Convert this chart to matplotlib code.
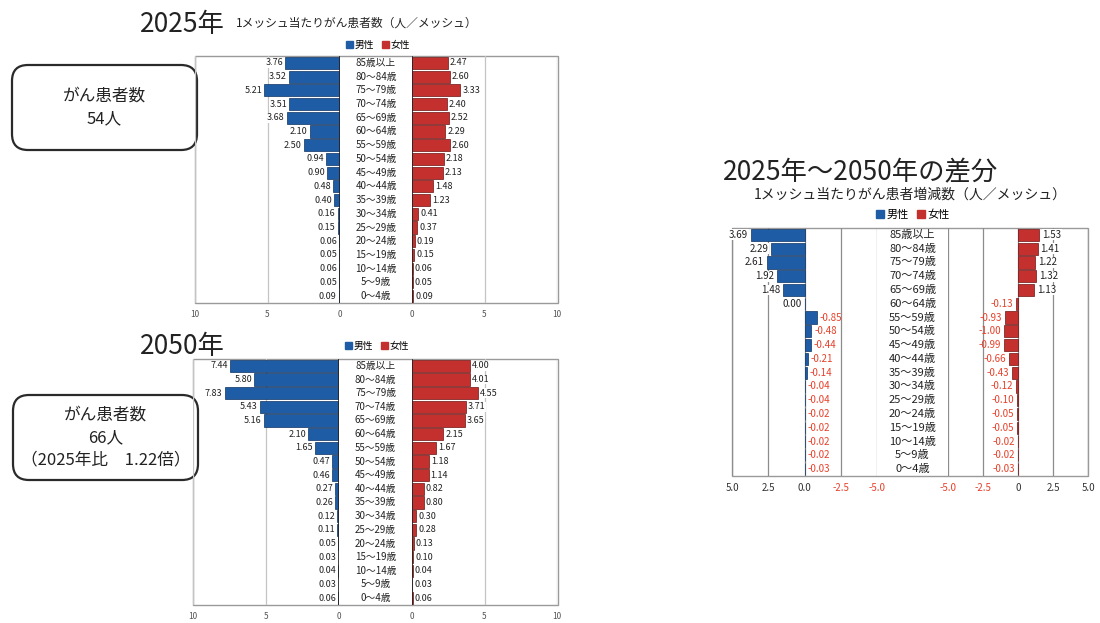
import matplotlib.pyplot as plt
from matplotlib.patches import FancyBboxPatch, Rectangle, Patch
from matplotlib.transforms import blended_transform_factory

W, H = 1100, 623
plt.rcParams['font.family'] = ['Noto Sans CJK JP', 'DejaVu Sans']

BLUE = "#1f5ca6"
RED = "#c4302e"
NEG = "#e8402a"

ages = ["85歳以上", "80～84歳", "75～79歳", "70～74歳", "65～69歳", "60～64歳",
        "55～59歳", "50～54歳", "45～49歳", "40～44歳", "35～39歳", "30～34歳",
        "25～29歳", "20～24歳", "15～19歳", "10～14歳", "5～9歳", "0～4歳"]

male_2025 = [3.76, 3.52, 5.21, 3.51, 3.68, 2.10, 2.50, 0.94, 0.90, 0.48, 0.40,
             0.16, 0.15, 0.06, 0.05, 0.06, 0.05, 0.09]
female_2025 = [2.47, 2.60, 3.33, 2.40, 2.52, 2.29, 2.60, 2.18, 2.13, 1.48, 1.23,
               0.41, 0.37, 0.19, 0.15, 0.06, 0.05, 0.09]

male_2050 = [7.44, 5.80, 7.83, 5.43, 5.16, 2.10, 1.65, 0.47, 0.46, 0.27, 0.26,
             0.12, 0.11, 0.05, 0.03, 0.04, 0.03, 0.06]
female_2050 = [4.00, 4.01, 4.55, 3.71, 3.65, 2.15, 1.67, 1.18, 1.14, 0.82, 0.80,
               0.30, 0.28, 0.13, 0.10, 0.04, 0.03, 0.06]

male_diff = [3.69, 2.29, 2.61, 1.92, 1.48, 0.00, -0.85, -0.48, -0.44, -0.21, -0.14,
             -0.04, -0.04, -0.02, -0.02, -0.02, -0.02, -0.03]
female_diff = [1.53, 1.41, 1.22, 1.32, 1.13, -0.13, -0.93, -1.00, -0.99, -0.66, -0.43,
               -0.12, -0.10, -0.05, -0.05, -0.02, -0.02, -0.03]

top_ticks = [0, 5, 10]
diff_ticks = [-5, -2.5, 0, 2.5, 5]


def box(x0, y0, x1, y1):
    # pixel box -> figure fraction
    return [x0 / W, 1 - y1 / H, (x1 - x0) / W, (y1 - y0) / H]


fig = plt.figure(figsize=(W / 100, H / 100), dpi=100)
fig.patch.set_facecolor("white")

# overlay in pixel coordinates for titles / boxes
ov = fig.add_axes([0, 0, 1, 1])
ov.set_xlim(0, W)
ov.set_ylim(H, 0)
ov.axis("off")


def panel(x0, x1, y0, y1, grid_col):
    ax = fig.add_axes(box(x0, y0, x1, y1))
    ax.set_facecolor("none")
    for s in ax.spines.values():
        s.set_visible(False)
    ax.set_ylim(17.5, -0.5)
    ax.set_yticks([])
    ax.tick_params(axis="x", length=0, pad=5)
    ax.grid(axis="x", color=grid_col, lw=0.9)
    ax.set_axisbelow(True)
    return ax


def pyramid(frame, lpan, rpan, male, female, diff=False):
    x0, y0, x1, y1 = frame
    ov.add_patch(Rectangle((x0, y0), x1 - x0, y1 - y0, fill=False,
                           ec="#9a9a9a", lw=1.0))
    grid_col = "#8c8c8c" if diff else "#c4c4c4"
    axl = panel(lpan[0], lpan[1], y0, y1, grid_col)
    axr = panel(rpan[0], rpan[1], y0, y1, grid_col)
    rows = range(len(ages))
    axl.barh(rows, male, height=0.88, color=BLUE, edgecolor="#0e3461", lw=0.5)
    axr.barh(rows, female, height=0.88, color=RED, edgecolor="#6e1413", lw=0.5)
    fs = 7 if diff else 6.5
    if diff:
        axl.set_xlim(5, -5)
        axr.set_xlim(-5, 5)
        axl.set_xticks(diff_ticks)
        axl.set_xticklabels(["-5.0", "-2.5", "0.0", "2.5", "5.0"], fontsize=7)
        axr.set_xticks(diff_ticks)
        axr.set_xticklabels(["-5.0", "-2.5", "0", "2.5", "5.0"], fontsize=7)
        for t, c in zip(axl.get_xticklabels(), [NEG, NEG, "#333", "#333", "#333"]):
            t.set_color(c)
        for t, c in zip(axr.get_xticklabels(), [NEG, NEG, "#333", "#333", "#333"]):
            t.set_color(c)
        for i, v in enumerate(male):
            if v < 0:
                axl.annotate(f"{v:.2f}", (v, i), xytext=(2, 0), textcoords="offset points",
                             ha="left", va="center", fontsize=fs, color=NEG)
            else:
                axl.annotate(f"{v:.2f}", (v, i), xytext=(-2, 0), textcoords="offset points",
                             ha="right", va="center", fontsize=fs, color="#222",
                             bbox=dict(fc="white", ec="none", pad=0.3))
        for i, v in enumerate(female):
            if v < 0:
                axr.annotate(f"{v:.2f}", (v, i), xytext=(-2, 0), textcoords="offset points",
                             ha="right", va="center", fontsize=fs, color=NEG)
            else:
                axr.annotate(f"{v:.2f}", (v, i), xytext=(2, 0), textcoords="offset points",
                             ha="left", va="center", fontsize=fs, color="#222",
                             bbox=dict(fc="white", ec="none", pad=0.3))
    else:
        axl.set_xlim(10, 0)
        axr.set_xlim(0, 10)
        for ax in (axl, axr):
            ax.set_xticks(top_ticks)
            ax.set_xticklabels([str(t) for t in top_ticks], fontsize=6, color="#555")
            ax.axvline(0, color="#222", lw=1.2)
        for i, v in enumerate(male):
            axl.annotate(f"{v:.2f}", (v, i), xytext=(-1.5, 0), textcoords="offset points",
                         ha="right", va="center", fontsize=fs, color="#222",
                         bbox=dict(fc="white", ec="none", pad=0.3))
        for i, v in enumerate(female):
            axr.annotate(f"{v:.2f}", (v, i), xytext=(1.5, 0), textcoords="offset points",
                         ha="left", va="center", fontsize=fs, color="#222",
                         bbox=dict(fc="white", ec="none", pad=0.3))
    # age labels in the middle column
    tr = blended_transform_factory(ov.transData, axl.transData)
    cx = (lpan[1] + rpan[0]) / 2
    for i, a in enumerate(ages):
        axl.text(cx, i, a, transform=tr, ha="center", va="center",
                 fontsize=8 if diff else 7, color="#222")


def legend(x, y, size):
    handles = [Patch(color=BLUE), Patch(color=RED)]
    fig.legend(handles, ["男性", "女性"], loc="center", bbox_to_anchor=(x / W, 1 - y / H),
               ncol=2, frameon=False, fontsize=size, handlelength=0.7, handleheight=0.7,
               handletextpad=0.2, columnspacing=0.8, borderpad=0)


# 2025
ov.text(140, 25, "2025年", fontsize=19, va="center", ha="left", color="#222")
ov.text(236, 23, "1メッシュ当たりがん患者数（人／メッシュ）", fontsize=8.5, va="center",
        ha="left", color="#222")
legend(378, 45, 7)
pyramid((195, 56, 558, 303), (195, 340), (412, 557), male_2025, female_2025)

# 2050
ov.text(140, 346, "2050年", fontsize=19, va="center", ha="left", color="#222")
legend(377, 346, 7)
pyramid((193, 359, 558, 605), (193, 339), (412, 557), male_2050, female_2050)

# difference
ov.text(723, 173, "2025年～2050年の差分", fontsize=19, va="center", ha="left", color="#222")
ov.text(910, 195, "1メッシュ当たりがん患者増減数（人／メッシュ）", fontsize=10, va="center",
        ha="center", color="#222")
legend(913, 215, 8)
pyramid((732, 228, 1088, 476), (732, 877), (948, 1088), male_diff, female_diff, diff=True)

# summary boxes
for (bx0, by0, bx1, by1), lines in [((12, 65, 197, 150), ["がん患者数", "54人"]),
                                      ((13, 395, 198, 480), ["がん患者数", "66人", "（2025年比　1.22倍）"])]:
    ov.add_patch(FancyBboxPatch((bx0, by0), bx1 - bx0, by1 - by0,
                                boxstyle="round,pad=0,rounding_size=16",
                                fc="white", ec="#2a2a2a", lw=1.6))
    cy = (by0 + by1) / 2
    step = 22
    start = cy - step * (len(lines) - 1) / 2
    for k, s in enumerate(lines):
        ov.text((bx0 + bx1) / 2, start + k * step, s, fontsize=12, ha="center",
                va="center", color="#222")

fig.savefig("out.png", dpi=100)
